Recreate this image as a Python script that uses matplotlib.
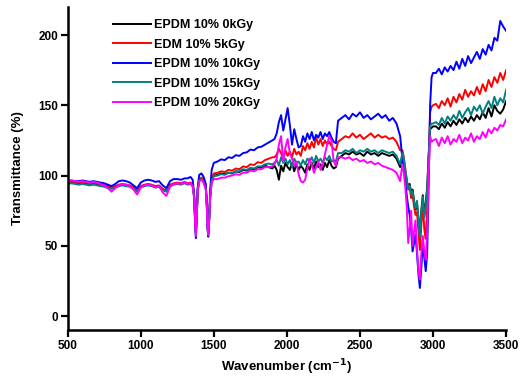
import matplotlib
matplotlib.use("Agg")
import matplotlib.pyplot as plt

wavenumber = [
    500, 525, 550, 575, 600, 625, 650, 675, 700, 725, 750, 775, 800, 825, 850, 875, 900,
    925, 950, 975, 1000, 1025, 1050, 1075, 1100, 1125, 1150, 1175, 1200, 1225, 1250, 1275, 1300,
    1320, 1340, 1355, 1365, 1372, 1377, 1382, 1390, 1400, 1415, 1430, 1445, 1452, 1457, 1462, 1467, 1475, 1485, 1500,
    1525, 1550, 1575, 1600, 1625, 1650, 1675, 1700, 1725, 1750, 1775, 1800, 1825, 1850, 1875, 1900,
    1915, 1930, 1945, 1960, 1975, 1990, 2005, 2020, 2035, 2050, 2065, 2080, 2095, 2110, 2125,
    2140, 2155, 2170, 2185, 2200, 2215, 2230, 2245, 2260, 2275, 2290, 2305, 2320, 2335, 2350,
    2375, 2400, 2425, 2450, 2475, 2500, 2525, 2550, 2575, 2600, 2625, 2650, 2675, 2700, 2725, 2750, 2775,
    2790, 2800, 2810, 2820, 2830, 2840, 2850, 2860, 2870, 2880, 2890, 2900, 2910, 2920, 2930, 2940, 2950, 2960, 2970, 2980, 2990, 3000,
    3020, 3040, 3060, 3080, 3100, 3120, 3140, 3160, 3180, 3200, 3220, 3240, 3260, 3280, 3300, 3320, 3340, 3360, 3380, 3400, 3420, 3440, 3460, 3480, 3500,
]

epdm_0kgy = [
    95, 95.5, 95, 94.5, 95, 94.5, 94, 94.5, 94, 93.5, 93, 92, 91, 92, 93, 93.5, 93,
    92.5, 91, 89, 92, 93, 93.5, 93, 92, 92.5, 90, 89, 93, 94, 94.5, 94, 95,
    94, 94.5, 93, 85, 68, 59, 70, 90, 97, 98, 96, 91, 79, 64, 59, 67, 85, 97, 100,
    100.5, 101.5, 101, 102, 101.5, 103, 102.5, 104, 103.5, 105, 104.5, 106, 105.5, 107, 106, 105,
    107, 104, 97, 107, 103, 109, 106, 104, 109, 103, 108, 104, 107, 105, 102,
    108, 104, 109, 105, 110, 106, 108, 104, 109, 106, 111, 107, 105, 106, 112,
    114, 116, 115, 117, 115, 116, 114, 117, 115, 116, 114, 116, 115, 114, 115, 112, 106,
    114, 110, 102, 96, 92, 94, 88, 90, 82, 76, 80, 70, 57, 75, 86, 72, 80, 92, 115, 133, 134, 135,
    135, 133, 137, 134, 138, 135, 139, 136, 140, 137, 141, 138, 142, 139, 143, 140, 145, 141, 148, 142, 150, 146, 144, 147, 153,
]

edm_5kgy = [
    95, 95.5, 95.5, 95, 95.5, 95, 94.5, 95, 94.5, 94, 93.5, 92.5, 91.5, 92.5, 93.5, 94, 93.5,
    93, 91.5, 89.5, 92.5, 93.5, 94, 93.5, 92.5, 93, 90.5, 89.5, 93.5, 94.5, 95, 94.5, 95.5,
    94.5, 95, 93.5, 86, 69, 60, 71, 91, 97.5, 98.5, 96.5, 92, 80, 65, 60, 68, 86, 98, 101.5,
    102, 103, 102.5, 104, 103.5, 105, 104.5, 106.5, 106, 108, 107.5, 109.5, 109, 111, 112, 113,
    113, 115, 119, 116, 112, 118, 114, 117, 113, 119, 115, 117, 114, 121, 118,
    123, 119, 124, 120, 127, 122, 126, 121, 125, 122, 124, 121, 119, 118, 124,
    126, 128, 127, 130, 127, 129, 126, 128, 130, 127, 129, 127, 128, 126, 127, 124, 118,
    118, 113, 105, 97, 90, 92, 84, 86, 78, 72, 74, 60, 47, 65, 80, 62, 55, 78, 110, 145, 149, 150,
    151, 148, 153, 150, 155, 149, 156, 152, 158, 154, 161, 156, 160, 157, 163, 158, 165, 160, 168, 163, 170, 166, 173, 168, 175,
]

epdm_10kgy = [
    96, 96.5, 96, 96, 96.5, 96, 95.5, 96, 95.5, 95, 94.5, 93.5, 92.5, 94, 96, 96.5, 96,
    95, 93, 91, 95, 96.5, 97, 96.5, 95.5, 96, 93, 91, 96, 97.5, 97.5, 97, 98,
    98, 99, 97, 87, 67, 55.5, 69, 92, 100.5, 101.5, 99, 94, 80, 62, 56.5, 66, 90, 104, 109,
    110, 111.5, 111, 113, 112.5, 114.5, 114, 116, 116.5, 118.5, 118, 120, 120.5, 122, 123.5, 125,
    126, 130, 138, 143, 132, 140, 148, 136, 122, 133, 126, 120, 121, 128, 124,
    130, 126, 131, 125, 129, 127, 131, 126, 130, 128, 131, 127, 124, 123, 139,
    141, 143, 140, 144, 142, 145, 141, 143, 140, 142, 144, 141, 143, 139, 141, 137, 128,
    112, 105, 96, 86, 78, 72, 62, 46, 52, 58, 45, 30, 20, 35, 52, 42, 32, 45, 95, 150, 170, 173,
    173, 176, 172, 177, 174, 178, 175, 181, 176, 183, 178, 185, 180, 184, 188, 183, 190, 186, 193, 189, 198, 196, 210, 206, 203,
]

epdm_15kgy = [
    94, 94.5, 94, 93.5, 94, 93.5, 93, 93.5, 93, 92.5, 92, 91, 90.5, 91.5, 92.5, 93, 92.5,
    92, 90.5, 88.5, 91.5, 92.5, 93, 92.5, 91.5, 92, 89.5, 88.5, 92.5, 93.5, 94, 93.5, 94.5,
    93.5, 94, 92.5, 84.5, 67.5, 58.5, 69.5, 89.5, 96.5, 97.5, 95.5, 90.5, 78.5, 63.5, 58.5, 66.5, 84.5, 96.5, 99.5,
    100, 101, 100.5, 102, 101.5, 103, 103, 104.5, 104, 105.5, 105, 106.5, 106.5, 108, 108.5, 108,
    109, 111, 107, 113, 109, 112, 108, 111, 106, 112, 109, 110, 107, 111, 108,
    112, 110, 113, 109, 114, 110, 112, 109, 113, 111, 114, 110, 111, 110, 116,
    116, 118, 117, 119, 116, 118, 117, 119, 117, 118, 116, 118, 117, 116, 117, 114, 108,
    116, 112, 104, 97, 91, 93, 87, 89, 81, 77, 82, 69, 56, 74, 85, 70, 78, 90, 113, 135, 137, 137,
    138, 136, 141, 137, 142, 139, 143, 140, 146, 141, 145, 148, 143, 149, 146, 150, 144, 149, 153, 148, 156, 150, 155, 152, 161,
]

epdm_20kgy = [
    96, 96.5, 96, 95.5, 96, 95.5, 95, 95.5, 95, 94, 93, 91, 88.5, 91, 93, 94, 93.5,
    92.5, 90, 86.5, 91.5, 93, 93.5, 93, 91.5, 92.5, 88, 85.5, 92, 94, 94.5, 94, 95.5,
    94, 94.5, 92.5, 84, 66, 57, 68, 89, 96, 97, 95, 90, 77, 62, 57.5, 65, 84, 95, 97.5,
    97.5, 98.5, 98.5, 99.5, 100, 101, 100.5, 102, 102, 103.5, 103, 104.5, 104.5, 106, 106, 106.5,
    108, 112, 122, 128, 110, 120, 126, 116, 112, 107, 110, 101, 96, 95, 97,
    105, 112, 108, 102, 106, 110, 104, 108, 115, 122, 128, 125, 110, 107, 113,
    113, 112, 113, 111, 112, 110, 111, 109, 110, 108, 109, 107, 106, 105, 104, 102, 96,
    108, 102, 92, 78, 52, 62, 75, 50, 60, 68, 48, 32, 26, 45, 57, 46, 40, 60, 100, 128, 124, 125,
    126, 121, 127, 123, 128, 122, 126, 124, 129, 123, 127, 125, 130, 124, 128, 126, 131, 127, 133, 130, 134, 132, 136, 135, 140,
]

series_labels = ["EPDM 10% 0kGy", "EDM 10% 5kGy", "EPDM 10% 10kGy", "EPDM 10% 15kGy", "EPDM 10% 20kGy"]
series_values = [epdm_0kgy, edm_5kgy, epdm_10kgy, epdm_15kgy, epdm_20kgy]
series_colors = ["#000000", "#ff0000", "#0000ff", "#008080", "#ff00ff"]

x_ticks = [500, 1000, 1500, 2000, 2500, 3000, 3500]
y_ticks = [0, 50, 100, 150, 200]

plt.rcParams["font.family"] = ["Liberation Sans", "DejaVu Sans"]
plt.rcParams["font.weight"] = "bold"

fig = plt.figure(figsize=(5.25, 3.83), dpi=100)
ax = fig.add_axes([0.129, 0.138, 0.835, 0.844])

for vals, lab, col in zip(series_values, series_labels, series_colors):
    ax.plot(wavenumber, vals, color=col, lw=1.4, label=lab)

ax.set_xlim(500, 3500)
ax.set_ylim(-10, 220)
ax.set_xticks(x_ticks)
ax.set_yticks(y_ticks)
for s in ["top", "right"]:
    ax.spines[s].set_visible(False)
for s in ["left", "bottom"]:
    ax.spines[s].set_linewidth(1.8)
ax.tick_params(axis="both", which="major", direction="out", length=5, width=1.6,
               labelsize=8.5, pad=2)
for lbl in ax.get_xticklabels() + ax.get_yticklabels():
    lbl.set_fontweight("bold")

ax.set_xlabel("Wavenumber (cm$^{\\mathbf{-1}}$)", fontsize=9.5, fontweight="bold", labelpad=4)
ax.set_ylabel("Transmittance (%)", fontsize=9.5, fontweight="bold", labelpad=10)

leg = ax.legend(loc="upper left", bbox_to_anchor=(107 / 525, 1 - 13 / 383),
                bbox_transform=fig.transFigure, frameon=False, fontsize=9,
                handlelength=3.0, handletextpad=0.3, labelspacing=0.6, borderpad=0)
for t in leg.get_texts():
    t.set_fontweight("bold")

fig.savefig("out.png", dpi=100)
